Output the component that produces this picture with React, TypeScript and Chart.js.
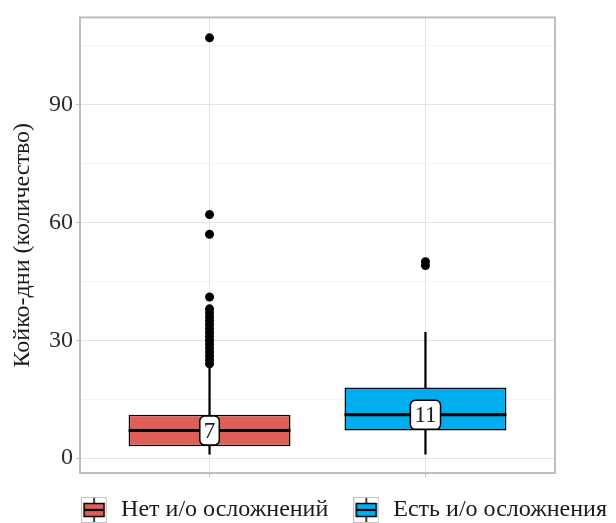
import React, { useEffect, useRef } from 'react';
import { Chart, registerables } from 'chart.js';

Chart.register(...registerables);

// ---- data ----
const categories = ['Нет и/о осложнений', 'Есть и/о осложнения'];
const boxColors = ['#DE5F58', '#00AEEF'];
const q1Values = [3, 7];
const medianValues = [7, 11];
const q3Values = [11, 18];
const whiskerLow = [1, 1];
const whiskerHigh = [23, 32];
const outliersNo = [107, 62, 57, 41, 38, 37, 36, 35, 34, 33, 32, 31, 30, 29, 28, 27, 26, 25, 24];
const outliersYes = [50, 49];
const yTickValues = [0, 15, 30, 45, 60, 75, 90, 105];
const yMajorTicks = [0, 30, 60, 90];
const yAxisTitle = 'Койко-дни (количество)';

const FONT = "'Liberation Serif', 'DejaVu Serif', serif";

function makeKeyIcon(color: string): HTMLCanvasElement {
  const c = document.createElement('canvas');
  c.width = 26;
  c.height = 26;
  const g = c.getContext('2d')!;
  g.fillStyle = '#ffffff';
  g.fillRect(0, 0, 26, 26);
  g.strokeStyle = '#C4C4C4';
  g.lineWidth = 1;
  g.strokeRect(0.5, 0.5, 25, 25);
  g.strokeStyle = '#000';
  g.lineWidth = 1.5;
  g.beginPath();
  g.moveTo(13, 1);
  g.lineTo(13, 25);
  g.stroke();
  g.fillStyle = color;
  g.fillRect(3, 6.5, 20, 13);
  g.strokeRect(3, 6.5, 20, 13);
  g.lineWidth = 2.2;
  g.beginPath();
  g.moveTo(3, 13);
  g.lineTo(23, 13);
  g.stroke();
  return c;
}

const boxExtrasPlugin = {
  id: 'boxExtras',
  afterDatasetsDraw(chart: any) {
    const ctx = chart.ctx as CanvasRenderingContext2D;
    const yScale = chart.scales.y;
    const meta = chart.getDatasetMeta(1);
    ctx.save();
    meta.data.forEach((el: any, i: number) => {
      const { x, width } = el.getProps(['x', 'width'], true);
      const y = yScale.getPixelForValue(medianValues[i]);
      ctx.beginPath();
      ctx.moveTo(x - width / 2, y);
      ctx.lineTo(x + width / 2, y);
      ctx.lineWidth = 3;
      ctx.strokeStyle = '#000';
      ctx.stroke();

      const label = String(medianValues[i]);
      ctx.font = `23px ${FONT}`;
      const tw = ctx.measureText(label).width;
      const bw = tw + 8;
      const bh = 29;
      ctx.beginPath();
      (ctx as any).roundRect(x - bw / 2, y - bh / 2, bw, bh, 5);
      ctx.fillStyle = '#ffffff';
      ctx.fill();
      ctx.lineWidth = 1.5;
      ctx.strokeStyle = '#000';
      ctx.stroke();
      ctx.fillStyle = '#1a1a1a';
      ctx.textAlign = 'center';
      ctx.textBaseline = 'middle';
      ctx.fillText(label, x, y + 1);
    });
    const { left, top, right, bottom } = chart.chartArea;
    ctx.strokeStyle = '#BEBEBE';
    ctx.lineWidth = 2;
    ctx.strokeRect(left, top, right - left, bottom - top);
    ctx.restore();
  },
};

export default function App() {
  const ref = useRef<HTMLCanvasElement | null>(null);

  useEffect(() => {
    if (!ref.current) return;
    const icons = boxColors.map(makeKeyIcon);
    const chart = new Chart(ref.current, {
      type: 'bar',
      data: {
        datasets: [
          {
            type: 'scatter',
            label: 'outliers',
            data: [
              ...outliersNo.map((v) => ({ x: 0, y: v })),
              ...outliersYes.map((v) => ({ x: 1, y: v })),
            ],
            backgroundColor: '#000',
            borderColor: '#000',
            pointRadius: 4.5,
            pointBorderWidth: 0,
            yAxisID: 'y',
            xAxisID: 'x',
            order: 0,
          } as any,
          {
            type: 'bar',
            label: 'boxes',
            data: categories.map((_, i) => ({ x: i, y: [q1Values[i], q3Values[i]] })),
            backgroundColor: boxColors,
            borderColor: '#000',
            borderWidth: 1.5,
            borderSkipped: false,
            barPercentage: 0.75,
            categoryPercentage: 1,
            grouped: false,
            yAxisID: 'y',
            xAxisID: 'x',
            order: 1,
          } as any,
          {
            type: 'bar',
            label: 'whiskers',
            data: categories.map((_, i) => ({ x: i, y: [whiskerLow[i], whiskerHigh[i]] })),
            backgroundColor: '#000',
            borderWidth: 0,
            barThickness: 1.6,
            grouped: false,
            yAxisID: 'y',
            xAxisID: 'x',
            order: 2,
          } as any,
        ],
      },
      options: {
        animation: false,
        responsive: false,
        layout: { padding: { top: 14, left: 0, right: -14, bottom: -9 } },
        scales: {
          x: {
            type: 'linear',
            min: -0.6,
            max: 1.6,
            offset: false,
            afterBuildTicks: (s: any) => {
              s.ticks = categories.map((_, i) => ({ value: i }));
            },
            afterFit: (s: any) => {
              s.height = 2;
            },
            ticks: { callback: () => '', padding: 0, font: { size: 1 } },
            grid: { offset: false, color: '#E3E3E3', tickLength: 4, tickColor: '#BEBEBE', lineWidth: 1 },
            border: { display: false },
          },
          y: {
            type: 'linear',
            position: 'left',
            min: -3.8,
            max: 112.2,
            afterBuildTicks: (s: any) => {
              s.ticks = yTickValues.map((v) => ({ value: v }));
            },
            afterFit: (s: any) => {
              s.width = 80;
            },
            ticks: {
              autoSkip: false,
              padding: 3,
              color: '#2b2b2b',
              font: { family: FONT, size: 24 },
              callback: (v: any) => (yMajorTicks.includes(Number(v)) ? String(v) : ''),
            },
            grid: {
              tickLength: 4,
              color: (c: any) => (yMajorTicks.includes(c.tick?.value) ? '#E3E3E3' : '#F4F4F4'),
              tickColor: (c: any) => (yMajorTicks.includes(c.tick?.value) ? '#BEBEBE' : 'rgba(0,0,0,0)'),
            },
            border: { display: false },
            title: {
              display: true,
              text: yAxisTitle,
              color: '#1a1a1a',
              font: { family: FONT, size: 24 },
              padding: { top: 8, bottom: 0 },
            },
          },
          yRight: {
            type: 'linear',
            position: 'right',
            min: 0,
            max: 1,
            grid: { display: false },
            ticks: { display: false },
            border: { display: false },
            afterFit: (s: any) => {
              s.width = 75;
            },
          },
        },
        plugins: {
          tooltip: { enabled: false },
          legend: {
            display: true,
            position: 'bottom',
            align: 'end',
            labels: {
              usePointStyle: true,
              pointStyleWidth: 30,
              padding: 23,
              color: '#1a1a1a',
              font: { family: FONT, size: 24 },
              generateLabels: () =>
                categories.map((c, i) => ({
                  text: c,
                  fillStyle: boxColors[i],
                  strokeStyle: '#000',
                  lineWidth: 0,
                  pointStyle: icons[i],
                  hidden: false,
                  datasetIndex: 1,
                  fontColor: '#1a1a1a',
                })) as any,
            },
            onClick: () => {},
          },
        },
      },
      plugins: [boxExtrasPlugin],
    });
    return () => chart.destroy();
  }, []);

  return (
    <div style={{ position: 'absolute', left: 0, top: 0, width: 616, height: 523, background: '#fff' }}>
      <canvas ref={ref} width={616} height={523} style={{ display: 'block' }} />
    </div>
  );
}
